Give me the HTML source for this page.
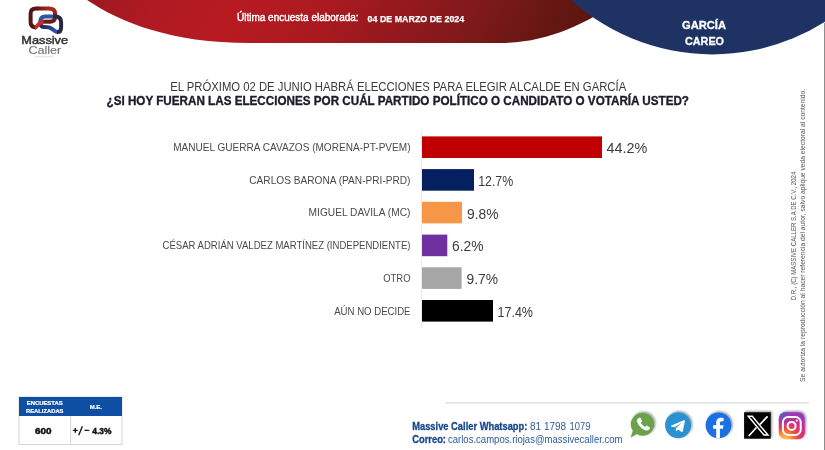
<!DOCTYPE html>
<html lang="es"><head><meta charset="utf-8"><title>Massive Caller - García Careo</title>
<style>
html,body{margin:0;padding:0;background:#fff;}
body{width:825px;height:450px;overflow:hidden;font-family:"Liberation Sans",sans-serif;}
svg{display:block;font-family:"Liberation Sans",sans-serif;will-change:transform;}
</style></head><body>
<svg width="825" height="450" viewBox="0 0 825 450">
<defs>
<linearGradient id="gred" x1="87" y1="0" x2="478.9" y2="235.1" gradientUnits="userSpaceOnUse">
<stop offset="0" stop-color="#9e1820"/><stop offset="0.137" stop-color="#b01a22"/><stop offset="0.287" stop-color="#b81a22"/><stop offset="0.456" stop-color="#aa1a20"/><stop offset="0.625" stop-color="#92191d"/><stop offset="0.775" stop-color="#7a1919"/><stop offset="0.887" stop-color="#661712"/><stop offset="1" stop-color="#561510"/>
</linearGradient>
<radialGradient id="gig" cx="0.22" cy="1.08" r="1.25">
<stop offset="0" stop-color="#fdd75b"/><stop offset="0.18" stop-color="#fba63c"/><stop offset="0.38" stop-color="#f0503a"/><stop offset="0.58" stop-color="#dd2a7b"/><stop offset="0.85" stop-color="#a932b4"/><stop offset="1" stop-color="#8a3ac0"/>
</radialGradient>
<radialGradient id="gig2" cx="0.02" cy="0.02" r="0.65">
<stop offset="0" stop-color="#4a5fdc"/><stop offset="0.45" stop-color="#6a4fd0" stop-opacity="0.6"/><stop offset="1" stop-color="#8a3ac0" stop-opacity="0"/>
</radialGradient>
<filter id="sh" x="-30%" y="-30%" width="160%" height="160%"><feDropShadow dx="1.2" dy="-1.1" stdDeviation="1.0" flood-color="#000" flood-opacity="0.42"/></filter>
</defs>
<rect width="825" height="450" fill="#fff"/>
<!-- header shapes -->
<path d="M87,0 C120,22 170,43 250,43 L500,43 C545,43 585,25 620,0 Z" fill="url(#gred)"/>
<circle cx="712.3" cy="-156.5" r="210.9" fill="#1f3264"/>
<rect x="824" y="23" width="1" height="427" fill="#8c8c8c"/>
<text x="237" y="20.8" font-size="11" fill="#fff" font-weight="normal" textLength="121.6" lengthAdjust="spacingAndGlyphs" stroke="#fff" stroke-width="0.4">Última encuesta elaborada:</text>
<text x="367.6" y="21.6" font-size="9.5" fill="#fff" font-weight="bold" textLength="96.6" lengthAdjust="spacingAndGlyphs" stroke="#fff" stroke-width="0.25">04 DE MARZO DE 2024</text>
<text x="682" y="28.6" font-size="11.6" fill="#fff" font-weight="bold" textLength="44" lengthAdjust="spacingAndGlyphs" stroke="#fff" stroke-width="0.3">GARCÍA</text>
<text x="685" y="45.4" font-size="11.6" fill="#fff" font-weight="bold" textLength="39" lengthAdjust="spacingAndGlyphs" stroke="#fff" stroke-width="0.3">CAREO</text>
<text x="170.2" y="91.1" font-size="12.2" fill="#3a3a3a" font-weight="normal" textLength="456" lengthAdjust="spacingAndGlyphs" >EL PRÓXIMO 02 DE JUNIO HABRÁ ELECCIONES PARA ELEGIR ALCALDE EN GARCÍA</text>
<text x="106.5" y="105.4" font-size="12.4" fill="#1b1b2b" font-weight="bold" textLength="582.5" lengthAdjust="spacingAndGlyphs" stroke="#1b1b2b" stroke-width="0.35">¿SI HOY FUERAN LAS ELECCIONES POR CUÁL PARTIDO POLÍTICO O CANDIDATO O VOTARÍA USTED?</text>
<rect x="421.2" y="130.7" width="0.8" height="198" fill="#e6e6e6"/>
<rect x="422" y="136.4" width="180.0" height="21.6" fill="#c00000"/>
<text x="173.2" y="151.0" font-size="11" fill="#4a4a4a" font-weight="normal" textLength="237.3" lengthAdjust="spacingAndGlyphs" >MANUEL GUERRA CAVAZOS (MORENA-PT-PVEM)</text>
<text x="606.4" y="153.1" font-size="14" fill="#3c3c3c" font-weight="normal" textLength="40.8" lengthAdjust="spacingAndGlyphs" >44.2%</text>
<rect x="422" y="169.1" width="52.0" height="21.6" fill="#04205f"/>
<text x="249.3" y="183.7" font-size="11" fill="#4a4a4a" font-weight="normal" textLength="161.2" lengthAdjust="spacingAndGlyphs" >CARLOS BARONA (PAN-PRI-PRD)</text>
<text x="478.2" y="185.8" font-size="14" fill="#3c3c3c" font-weight="normal" textLength="35.0" lengthAdjust="spacingAndGlyphs" >12.7%</text>
<rect x="422" y="201.8" width="40.0" height="21.6" fill="#f79646"/>
<text x="308.6" y="216.4" font-size="11" fill="#4a4a4a" font-weight="normal" textLength="101.9" lengthAdjust="spacingAndGlyphs" >MIGUEL DAVILA (MC)</text>
<text x="467.0" y="218.5" font-size="14" fill="#3c3c3c" font-weight="normal" textLength="31.5" lengthAdjust="spacingAndGlyphs" >9.8%</text>
<rect x="422" y="234.6" width="25.3" height="21.6" fill="#7030a0"/>
<text x="162.6" y="249.2" font-size="11" fill="#4a4a4a" font-weight="normal" textLength="247.9" lengthAdjust="spacingAndGlyphs" >CÉSAR ADRIÁN VALDEZ MARTÍNEZ (INDEPENDIENTE)</text>
<text x="452.0" y="251.3" font-size="14" fill="#3c3c3c" font-weight="normal" textLength="31.5" lengthAdjust="spacingAndGlyphs" >6.2%</text>
<rect x="422" y="267.3" width="39.6" height="21.6" fill="#a6a6a6"/>
<text x="383.2" y="281.9" font-size="11" fill="#4a4a4a" font-weight="normal" textLength="27.3" lengthAdjust="spacingAndGlyphs" >OTRO</text>
<text x="466.5" y="284.0" font-size="14" fill="#3c3c3c" font-weight="normal" textLength="31.5" lengthAdjust="spacingAndGlyphs" >9.7%</text>
<rect x="422" y="300.0" width="71.0" height="21.6" fill="#000000"/>
<text x="334.2" y="314.6" font-size="11" fill="#4a4a4a" font-weight="normal" textLength="76.3" lengthAdjust="spacingAndGlyphs" >AÚN NO DECIDE</text>
<text x="497.5" y="316.7" font-size="14" fill="#3c3c3c" font-weight="normal" textLength="35.5" lengthAdjust="spacingAndGlyphs" >17.4%</text>
<rect x="19" y="397" width="103" height="47.5" fill="#fff" stroke="#c4c4c4" stroke-width="0.7"/>
<rect x="19" y="397" width="103" height="19" fill="#0f4fa3"/>
<rect x="70.4" y="416" width="0.7" height="28.5" fill="#c4c4c4"/>
<text x="26.7" y="405.1" font-size="5.8" fill="#fff" font-weight="bold" textLength="36" lengthAdjust="spacingAndGlyphs" stroke="#fff" stroke-width="0.2">ENCUESTAS</text>
<text x="26" y="412.5" font-size="5.8" fill="#fff" font-weight="bold" textLength="37.5" lengthAdjust="spacingAndGlyphs" stroke="#fff" stroke-width="0.2">REALIZADAS</text>
<text x="89.7" y="408.6" font-size="5.8" fill="#fff" font-weight="bold" textLength="12.3" lengthAdjust="spacingAndGlyphs" stroke="#fff" stroke-width="0.2">M.E.</text>
<text x="34.9" y="433.6" font-size="8.9" fill="#111" font-weight="bold" textLength="16.6" lengthAdjust="spacingAndGlyphs" stroke="#111" stroke-width="0.45">600</text>
<path d="M72.900,430.400 H77.700 M75.300,428 V432.800 M78.700,435.300 L82.400,426.300 M84.500,430.400 H89.300" stroke="#1a1a1a" stroke-width="1.400" fill="none"/>
<text x="92.3" y="433.6" font-size="8.9" fill="#111" font-weight="bold" textLength="19.2" lengthAdjust="spacingAndGlyphs" stroke="#111" stroke-width="0.45">4.3%</text>
<rect x="445" y="402.5" width="364" height="0.9" fill="#d0d0d0"/>
<text x="412.2" y="430.1" font-size="10.5" fill="#17478c" font-weight="bold" textLength="115.2" lengthAdjust="spacingAndGlyphs" stroke="#17478c" stroke-width="0.3">Massive Caller Whatsapp:</text>
<text x="530" y="430.1" font-size="10.5" fill="#2c5a9c" font-weight="normal" textLength="36.2" lengthAdjust="spacingAndGlyphs" >81 1798</text>
<text x="569.6" y="430.1" font-size="10.5" fill="#2c5a9c" font-weight="normal" textLength="20.9" lengthAdjust="spacingAndGlyphs" >1079</text>
<text x="412.2" y="443.2" font-size="10.5" fill="#17478c" font-weight="bold" textLength="33.8" lengthAdjust="spacingAndGlyphs" stroke="#17478c" stroke-width="0.3">Correo:</text>
<text x="448" y="443.2" font-size="10.5" fill="#2c5a9c" font-weight="normal" textLength="174.5" lengthAdjust="spacingAndGlyphs" >carlos.campos.riojas@massivecaller.com</text>
<g fill="#555">
<text transform="translate(796.0,300.3) rotate(-90)" font-size="6.9" textLength="128.6" lengthAdjust="spacingAndGlyphs">D.R., (C) MASSIVE CALLER S.A DE C.V., 2024</text>
<text transform="translate(805.1,381.9) rotate(-90)" font-size="7" textLength="293" lengthAdjust="spacingAndGlyphs">Se autoriza la reproducción al hacer referencia del autor, salvo aplique veda electoral al contenido.</text>
</g>
<defs>
<linearGradient id="lgtop" x1="34" y1="0" x2="49" y2="0" gradientUnits="userSpaceOnUse"><stop offset="0" stop-color="#561416"/><stop offset="0.5" stop-color="#8a1e1b"/><stop offset="1" stop-color="#b3271f"/></linearGradient>
<linearGradient id="lgright" x1="0" y1="8" x2="0" y2="21" gradientUnits="userSpaceOnUse"><stop offset="0" stop-color="#b3271f"/><stop offset="0.5" stop-color="#86201a"/><stop offset="1" stop-color="#6a1d18"/></linearGradient>
<linearGradient id="lgbot" x1="39" y1="0" x2="55" y2="0" gradientUnits="userSpaceOnUse"><stop offset="0" stop-color="#1d2a4e"/><stop offset="0.45" stop-color="#243c78"/><stop offset="1" stop-color="#2d54a2"/></linearGradient>
</defs>
<g fill="none" stroke-linecap="butt" stroke-linejoin="round" stroke-width="4" transform="translate(1.2,0.4)">
<path d="M38.9,22.500 C38.900,18 41,16.100 44,16.100 L52.500,16.100" stroke="#2d57a2"/>
<path d="M47.500,8.100 C52,8.100 53.900,10 53.900,13.500 L53.900,16 C53.900,19.500 52,21.300 48.500,21.300" stroke="url(#lgright)"/>
<path d="M49,21.300 L41.500,21.300" stroke="#6a1d18"/>
<path d="M56.600,31.900 C54,31.600 52.500,29.800 50.500,28.200 C48.500,26.600 46,26.600 43.500,26.600 C40.500,26.600 38.900,24.500 38.900,21.500" stroke="url(#lgbot)"/>
<path d="M52,16.100 L54,16.100 C58,16.100 59.900,18 59.900,22 L59.900,27 C59.900,30 58.500,31.700 55.800,31.700" stroke="#27273f"/>
<path d="M33.800,27 C31,26.300 29.400,24.500 29.400,21.500 L29.400,13 C29.400,9.500 31.500,8.100 35,8.100 L36,8.100" stroke="#561416" stroke-linecap="round"/>
<path d="M42.500,21.300 C39.500,21.300 38,23 36.500,25 C35.600,26 35,26.800 33.600,27.300" stroke="#c42e2a"/>
<path d="M35.500,8.100 L48.500,8.100" stroke="url(#lgtop)"/>
</g>
<text x="21.3" y="44.4" font-size="10.6" fill="#333" font-weight="normal" textLength="46.8" lengthAdjust="spacingAndGlyphs" stroke="#333" stroke-width="0.45">Massive</text>
<text x="28.4" y="54.2" font-size="10.6" fill="#777" font-weight="normal" textLength="32.8" lengthAdjust="spacingAndGlyphs" stroke="#777" stroke-width="0.15">Caller</text>
<rect x="35" y="56.3" width="18" height="1" fill="#dedede"/>
<g filter="url(#sh)">
<path d="M642.8,412.9 a11.4,11.4 0 1 1 -6.1,21 l-6.200,3.900 l2.400,-7 a11.400,11.400 0 0 1 9.900,-17.900 z" fill="#6ba24b"/>
</g>
<path d="M637.9,418.400 c-0.900,0.900 -1.300,2.300 -0.700,3.900 c1.400,3.600 4.400,6.600 8,8 c1.600,0.600 3,0.200 3.900,-0.700 l0.800,-1 c0.300,-0.400 0.200,-0.900 -0.200,-1.200 l-2.500,-1.600 c-0.400,-0.300 -0.900,-0.200 -1.200,0.100 l-1,1 c-1.600,-0.800 -3.300,-2.500 -4.100,-4.100 l1,-1 c0.300,-0.300 0.400,-0.800 0.100,-1.200 l-1.600,-2.500 c-0.300,-0.400 -0.800,-0.500 -1.200,-0.200 z" fill="#fff"/>
<g filter="url(#sh)"><circle cx="678.1" cy="425.3" r="13" fill="#2b92d1"/></g>
<path d="M671.3,425.400 l12.600,-5.100 c0.700,-0.300 1.200,0.200 1,1 l-2.100,10 c-0.200,0.800 -0.700,1 -1.300,0.600 l-3.300,-2.400 l-1.600,1.500 c-0.300,0.300 -0.600,0.300 -0.700,-0.200 l-0.100,-2.600 l6,-5.400 l-7.300,4.500 l-3,-0.900 c-0.700,-0.200 -0.700,-0.800 -0.200,-1 z" fill="#fff"/>
<g filter="url(#sh)"><circle cx="718.5" cy="425.300" r="12.900" fill="#1b6fe3"/></g>
<path d="M719.9,438.100 v-9.300 h3.100 l0.500,-3.600 h-3.600 v-2.200 c0,-1.100 0.400,-1.800 1.900,-1.800 h1.800 v-3.200 c-0.400,-0.100 -1.500,-0.200 -2.800,-0.200 c-2.800,0 -4.600,1.700 -4.600,4.700 v2.700 h-3.100 v3.600 h3.100 v9.300 z" fill="#fff"/>
<g filter="url(#sh)"><rect x="744.1" y="412.3" width="26.6" height="26.4" fill="#000"/></g>
<path d="M767.6,416.300 L760,424.400 M756.400,427.500 L748.800,436" stroke="#fff" stroke-width="1.700" fill="none"/>
<path d="M748.300,416.300 L752.300,416.300 L768,435.100 L764,435.100 Z" fill="#000" stroke="#fff" stroke-width="1.500" stroke-linejoin="miter"/>
<g filter="url(#sh)"><rect x="778.8" y="412.300" width="26" height="26.900" rx="6.500" fill="url(#gig)"/></g>
<rect x="778.8" y="412.300" width="26" height="26.900" rx="6.500" fill="url(#gig2)"/>
<rect x="782.900" y="417.100" width="17.800" height="17.800" rx="5.200" fill="none" stroke="#fff" stroke-width="2"/>
<circle cx="791.600" cy="425.900" r="4" fill="none" stroke="#fff" stroke-width="2"/>
<circle cx="796.800" cy="420.600" r="1.100" fill="#fff"/>
</svg></body></html>
